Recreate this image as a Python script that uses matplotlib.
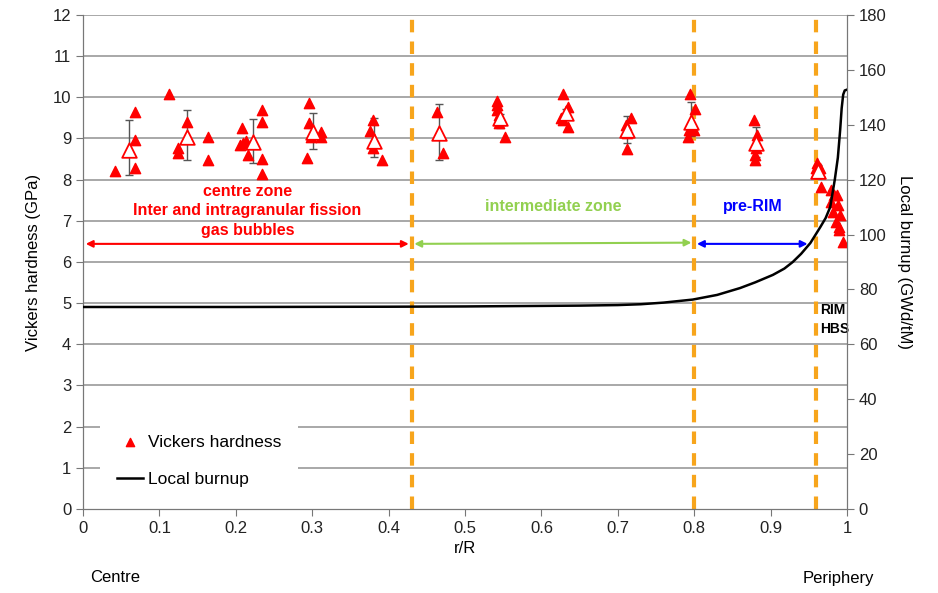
import matplotlib.pyplot as plt
import numpy as np

plt.rcParams['font.family'] = ['Liberation Sans', 'DejaVu Sans']

# individual hardness measurements (r/R, GPa)
hv_r = [0.042, 0.068, 0.068, 0.068,
        0.113, 0.136, 0.124, 0.124, 0.164, 0.164,
        0.208, 0.210, 0.213, 0.205, 0.216, 0.234, 0.234, 0.234, 0.234,
        0.296, 0.296, 0.298, 0.311, 0.311, 0.293,
        0.380, 0.376, 0.380, 0.391,
        0.463, 0.471,
        0.542, 0.542, 0.542, 0.544, 0.546, 0.545, 0.552,
        0.628, 0.635, 0.626, 0.628, 0.635,
        0.717, 0.711, 0.712, 0.712,
        0.794, 0.801, 0.793, 0.800, 0.792,
        0.878, 0.882, 0.881, 0.880, 0.879,
        0.961, 0.959, 0.964, 0.960, 0.965, 0.966,
        0.979, 0.983, 0.987, 0.979, 0.988, 0.982, 0.991, 0.986, 0.990, 0.989, 0.995]
hv_val = [8.21, 9.64, 8.96, 8.28,
          10.08, 9.40, 8.77, 8.65, 9.04, 8.48,
          9.25, 8.90, 8.95, 8.85, 8.60, 9.69, 9.40, 8.50, 8.14,
          9.86, 9.37, 9.04, 9.16, 9.04, 8.53,
          9.45, 9.18, 8.77, 8.48,
          9.64, 8.65,
          9.91, 9.81, 9.69, 9.57, 9.45, 9.37, 9.04,
          10.08, 9.76, 9.50, 9.45, 9.28,
          9.50, 9.33, 9.13, 8.74,
          10.08, 9.72, 9.20, 9.20, 9.04,
          9.45, 9.08, 8.77, 8.60, 8.48,
          8.40, 8.28, 8.28, 8.16, 8.16, 7.82,
          7.75, 7.63, 7.63, 7.46, 7.38, 7.21, 7.14, 6.97, 6.85, 6.78, 6.49]

# mean values with error bars
mean_r = [0.060, 0.136, 0.222, 0.301, 0.381, 0.466, 0.546, 0.632, 0.712, 0.796, 0.881, 0.962]
mean_val = [8.72, 9.04, 8.91, 9.16, 8.94, 9.13, 9.50, 9.62, 9.20, 9.40, 8.89, 8.21]
err_hi = [9.45, 9.69, 9.47, 9.62, 9.50, 9.83, 9.59, 9.72, 9.54, 9.89, 9.28, 8.35]
err_lo = [8.11, 8.48, 8.40, 8.74, 8.55, 8.48, 9.25, 9.50, 8.89, 9.05, 8.55, 8.10]

# local burnup profile (GWd/tM)
bu_r = [0.0, 0.2, 0.4, 0.5, 0.6, 0.65, 0.7, 0.73, 0.76, 0.798, 0.83, 0.86, 0.88,
        0.903, 0.918, 0.929, 0.94, 0.952, 0.965, 0.972, 0.978, 0.984, 0.988,
        0.991, 0.993, 0.995, 0.997, 1.0]
bu_val = [73.6, 73.6, 73.7, 73.8, 74.0, 74.1, 74.3, 74.6, 75.2, 76.3, 78.0, 80.5, 82.6,
          85.3, 87.6, 90.0, 93.0, 96.9, 102.7, 106.0, 110.0, 120.0, 128.0,
          138.0, 146.0, 151.0, 152.5, 152.8]

zone_bounds = [0.43, 0.80, 0.96]

fig = plt.figure(figsize=(9.38, 5.93), dpi=100)
ax = fig.add_axes([0.0885, 0.1417, 0.8145, 0.833])
ax2 = ax.twinx()

# grid
for g in range(1, 13):
    ax.axhline(g, color='#999999', lw=1.2, zorder=0)

yerr = [np.array(mean_val) - np.array(err_lo), np.array(err_hi) - np.array(mean_val)]
ax.errorbar(mean_r, mean_val, yerr=yerr, fmt='none', ecolor='#555555', elinewidth=1,
            capsize=3, capthick=1, zorder=3)
ax.scatter(hv_r, hv_val, marker='^', s=55, color='#ff0000', zorder=4, label='Vickers hardness')
ax.scatter(mean_r, mean_val, marker='^', s=110, facecolor='white', edgecolor='#ff0000',
           linewidth=1.3, zorder=5)

for b in zone_bounds:
    ax.axvline(b, color='#f7a51c', lw=3, ls=(0, (3, 2.2)), zorder=2)

ax2.plot(bu_r, bu_val, color='black', lw=1.8, zorder=3)
ax.plot([], [], color='black', lw=1.8, label='Local burnup')

# zone arrows
ay = 6.44
ax.annotate('', xy=(0.0, ay), xytext=(0.43, ay),
            arrowprops=dict(arrowstyle='<|-|>', color='#ff0000', lw=1.5, mutation_scale=10))
ax.annotate('', xy=(0.43, ay), xytext=(0.80, ay + 0.03),
            arrowprops=dict(arrowstyle='<|-|>', color='#92d050', lw=1.5, mutation_scale=10))
ax.annotate('', xy=(0.80, ay), xytext=(0.952, ay),
            arrowprops=dict(arrowstyle='<|-|>', color='#0000ff', lw=1.5, mutation_scale=10))

ax.text(0.215, 7.24, 'centre zone\nInter and intragranular fission\ngas bubbles', color='#ff0000',
        fontsize=11.5, fontweight='bold', ha='center', va='center', linespacing=1.35)
ax.text(0.615, 7.36, 'intermediate zone', color='#92d050', fontsize=11.5,
        fontweight='bold', ha='center', va='center')
ax.text(0.877, 7.36, 'pre-RIM', color='#0000ff', fontsize=11.5,
        fontweight='bold', ha='center', va='center')
ax.text(0.965, 4.6, 'RIM\nHBS', color='black', fontsize=10,
        fontweight='bold', ha='left', va='center', linespacing=1.45, zorder=6)

ax.set_xlim(0, 1)
ax.set_ylim(0, 12)
ax2.set_ylim(0, 180)
ax.set_xticks(np.arange(0, 1.01, 0.1))
ax.set_xticklabels(['0', '0.1', '0.2', '0.3', '0.4', '0.5', '0.6', '0.7', '0.8', '0.9', '1'])
ax.set_yticks(range(0, 13))
ax2.set_yticks(range(0, 181, 20))

for a in (ax, ax2):
    a.tick_params(direction='out', length=5, color='#777777', labelsize=12, colors='#222222')
    a.spines['top'].set_visible(False)
    for s in ('left', 'right', 'bottom'):
        a.spines[s].set_color('#777777')

ax.set_xlabel('r/R', fontsize=12, labelpad=4)
ax.set_ylabel('Vickers hardness (GPa)', fontsize=12, labelpad=8)
ax2.set_ylabel('Local burnup (GWd/tM)', fontsize=12, rotation=270, labelpad=18)

leg = ax.legend(loc='lower left', bbox_to_anchor=(0.022, 0.01), borderaxespad=0,
                fontsize=12.5, frameon=True, fancybox=False, edgecolor='none', framealpha=1,
                handlelength=1.5, handletextpad=0.25, borderpad=1.0, labelspacing=1.25,
                markerscale=0.8)
leg.set_zorder(6)

fig.text(115 / 938, 1 - 578 / 593, 'Centre', fontsize=12, ha='center', va='center')
fig.text(838 / 938, 1 - 578 / 593, 'Periphery', fontsize=12, ha='center', va='center')

fig.savefig('out.png', dpi=100)
